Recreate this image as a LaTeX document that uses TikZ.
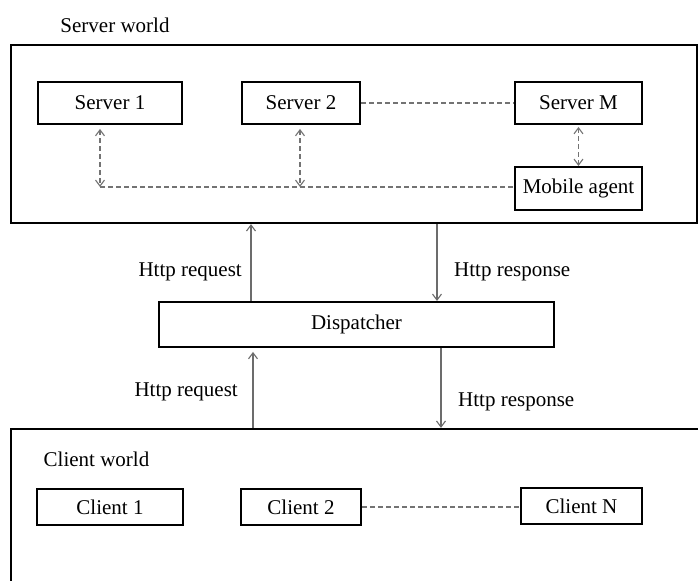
\documentclass[tikz,border=0pt]{standalone}
\usepackage{fontspec}
\setmainfont{Liberation Serif}
\usetikzlibrary{arrows.meta}

\tikzset{
  box/.style={rectangle, draw, line width=1pt, minimum height=21pt, inner sep=0pt},
  world/.style={rectangle, draw, line width=1.1pt, inner sep=0pt},
  link/.style={draw=gray!90!black, dash pattern=on 2.5pt off 1.5pt, line width=0.55pt},
  duplex/.style={link, {Straight Barb[length=3pt,width=4.5pt]}-{Straight Barb[length=3pt,width=4.5pt]}},
  flow/.style={draw=gray!85!black, line width=0.55pt, -{Straight Barb[length=3pt,width=4.5pt]}},
}

\begin{document}
\begin{tikzpicture}[x=0.5pt, y=-0.5pt, font=\fontsize{10.5}{12}\selectfont]
        \clip (0,0) rectangle (698,581);
        \fill[white] (0,0) rectangle (698,581);

        % Server world
        \node[world, minimum width=343pt, minimum height=89pt] (sworld) at (354,134) {};
        \node (slabel) at (115,25) {Server world};

        % Servers
        \node[box, minimum width=72pt] (s1) at (110,103) {Server 1};
        \node[box, minimum width=59pt] (s2) at (301,103) {Server 2};
        \node[box, minimum width=63.5pt] (sm) at (578.5,103) {Server M};

        % Mobile agent
        \node[box, minimum width=63.5pt, minimum height=21.5pt] (agent) at (578.5,188.5) {Mobile agent};

        % Dispatcher
        \node[box, minimum width=197.5pt, minimum height=22.5pt] (disp) at (356.5,324.5) {Dispatcher};

        % Client world
        \node[world, minimum width=360pt, minimum height=95pt] (cworld) at (371,524) {};
        \node (clabel) at (96.5,459) {Client world};

        % Clients
        \node[box, minimum width=73pt, minimum height=18pt] (c1) at (110,507) {Client 1};
        \node[box, minimum width=60pt, minimum height=18pt] (c2) at (301,507) {Client 2};
        \node[box, minimum width=60.5pt, minimum height=18pt] (cn) at (581.5,506) {Client N};

        % Junctions
        \coordinate (j1) at (100,187);
        \coordinate (j2) at (300,187);
        \coordinate (up1) at (251,0);
        \coordinate (dn1) at (437,0);
        \coordinate (up2) at (253,0);
        \coordinate (dn2) at (441,0);

        % Agent connections
        \draw[link] (s2) -- (sm);
        \draw[duplex, shorten <=2pt] (s1.south -| j1) -- (j1);
        \draw[duplex, shorten <=2pt] (s2.south -| j2) -- (j2);
        \draw[link] (j1) -- (j1 -| agent.west);
        \draw[duplex, shorten <=1pt] (sm.south) -- (agent.north);

        % Http traffic
        \draw[flow] (up1 |- disp.north) -- node[pos=0.38, left=1pt] {Http request} (up1 |- sworld.south);
        \draw[flow] (dn1 |- sworld.south) -- node[pos=0.62, right=5pt] {Http response} (dn1 |- disp.north);
        \draw[flow, shorten >=2pt] (up2 |- cworld.north) -- node[pos=0.45, left=4pt] {Http request} (up2 |- disp.south);
        \draw[flow] (dn2 |- disp.south) -- node[pos=0.68, right=5pt] {Http response} (dn2 |- cworld.north);

        % Client connections
        \draw[link] (c2.east) -- (c2.east -| cn.west);
    \end{tikzpicture}
\end{document}
